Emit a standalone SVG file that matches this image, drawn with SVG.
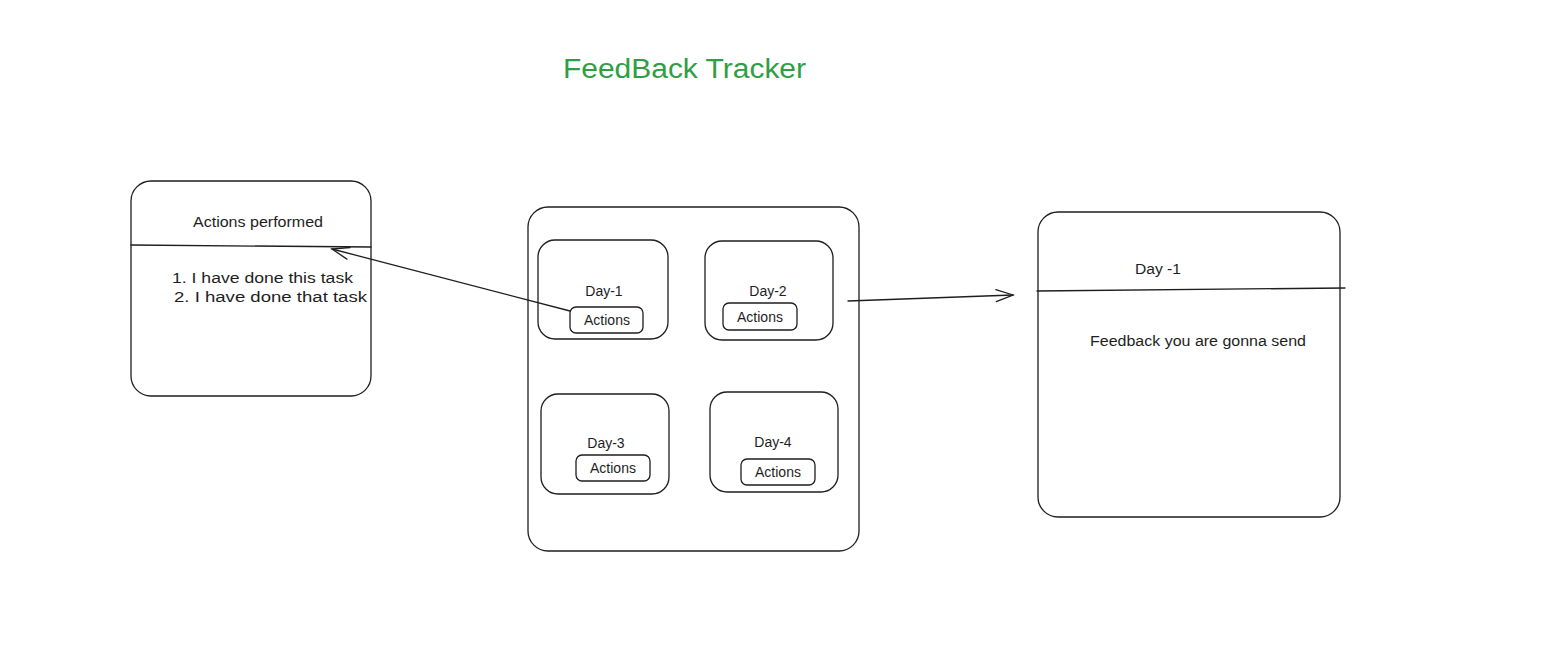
<svg xmlns="http://www.w3.org/2000/svg" width="1549" height="658" viewBox="0 0 1549 658">
<style>
.box{fill:none;stroke:#1e1e1e;stroke-width:1.3}
.ln{fill:none;stroke:#1e1e1e;stroke-width:1.3;stroke-linecap:round}
.t{font-family:"Liberation Sans",Arial,sans-serif;font-size:14px;fill:#1e1e1e}
.c{text-anchor:middle}
.title{font-family:"Liberation Sans",Arial,sans-serif;font-size:27px;fill:#2f9e44}
</style>
<defs>
<marker id="arr" markerWidth="20" markerHeight="14" refX="18" refY="7" orient="auto" markerUnits="userSpaceOnUse">
<path d="M1,1 L18,7 L1,13" fill="none" stroke="#1e1e1e" stroke-width="1.3" stroke-linecap="round"/>
</marker>
</defs>
<rect width="1549" height="658" fill="#ffffff"/>
<g id="title">
<text class="title" x="563" y="78" textLength="243" lengthAdjust="spacingAndGlyphs">FeedBack Tracker</text>
</g>
<g id="actions-performed">
<rect class="box" x="131" y="181" width="240" height="215" rx="20"/>
<line class="ln" x1="131" y1="245" x2="371" y2="247"/>
<text class="t" x="193" y="227" textLength="130" lengthAdjust="spacingAndGlyphs">Actions performed</text>
<text class="t" x="172" y="283" textLength="181" lengthAdjust="spacingAndGlyphs">1. I have done this task</text>
<text class="t" x="174" y="302" textLength="193" lengthAdjust="spacingAndGlyphs">2. I have done that task</text>
</g>
<g id="days-container">
<rect class="box" x="528" y="207" width="331" height="344" rx="20"/>
</g>
<g id="day-1">
<rect class="box" x="538" y="240" width="130" height="99" rx="17"/>
<text class="t c" x="604" y="296">Day-1</text>
<g id="day-1-actions">
<rect class="box" x="570" y="307" width="73" height="26" rx="6"/>
<text class="t c" x="607" y="325">Actions</text>
</g>
</g>
<g id="day-2">
<rect class="box" x="705" y="241" width="128" height="99" rx="17"/>
<text class="t c" x="768" y="296">Day-2</text>
<g id="day-2-actions">
<rect class="box" x="723" y="303" width="74" height="27" rx="6"/>
<text class="t c" x="760" y="322">Actions</text>
</g>
</g>
<g id="day-3">
<rect class="box" x="541" y="394" width="128" height="100" rx="17"/>
<text class="t c" x="606" y="448">Day-3</text>
<g id="day-3-actions">
<rect class="box" x="576" y="455" width="74" height="26" rx="6"/>
<text class="t c" x="613" y="473">Actions</text>
</g>
</g>
<g id="day-4">
<rect class="box" x="710" y="392" width="128" height="100" rx="17"/>
<text class="t c" x="773" y="447">Day-4</text>
<g id="day-4-actions">
<rect class="box" x="741" y="459" width="74" height="26" rx="6"/>
<text class="t c" x="778" y="477">Actions</text>
</g>
</g>
<g id="feedback">
<rect class="box" x="1038" y="212" width="302" height="305" rx="20"/>
<line class="ln" x1="1037" y1="291" x2="1345" y2="288"/>
<text class="t" x="1135" y="274" textLength="46" lengthAdjust="spacingAndGlyphs">Day -1</text>
<text class="t" x="1090" y="346" textLength="216" lengthAdjust="spacingAndGlyphs">Feedback you are gonna send</text>
</g>
<g id="connectors">
<line class="ln" x1="570" y1="311" x2="332" y2="249" marker-end="url(#arr)"/>
<line class="ln" x1="848" y1="301" x2="1013" y2="295" marker-end="url(#arr)"/>
</g>
</svg>
